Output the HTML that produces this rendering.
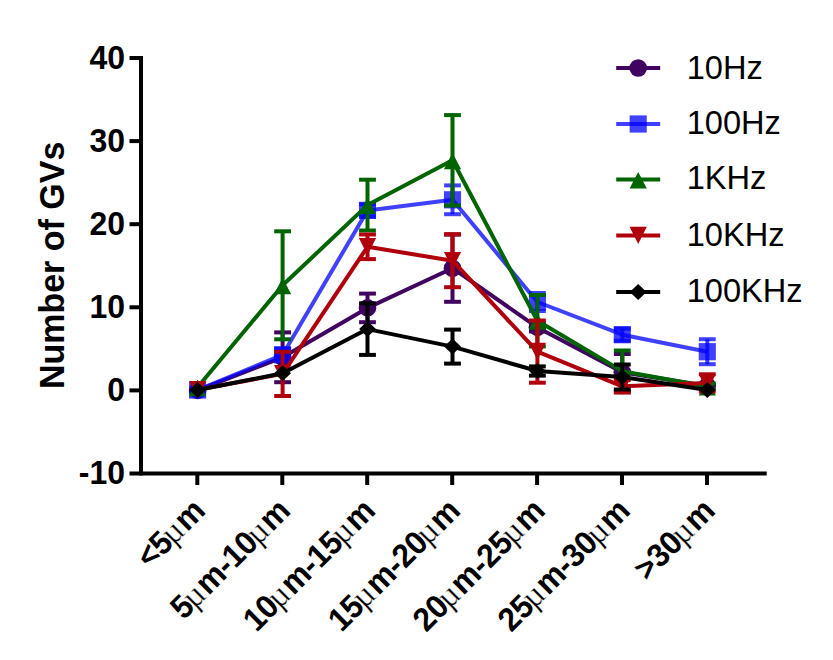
<!DOCTYPE html>
<html lang="en"><head><meta charset="utf-8"><title>Number of GVs</title>
<style>
html,body{margin:0;padding:0;background:#fff;}
svg{display:block;}
text{font-family:"Liberation Sans",Arial,Helvetica,sans-serif;fill:#000;}
.b{font-weight:bold;}
.mu{font-family:"Liberation Serif","DejaVu Serif",serif;font-weight:normal;}
text{font-kerning:none;}
</style></head><body>
<svg width="833" height="660" viewBox="0 0 833 660">
<rect width="833" height="660" fill="#fff"/>
<g><path d="M282.6 332.4V382.2" stroke="#40035F" stroke-width="4" fill="none"/>
<path d="M274.2 332.4H291.0" stroke="#40035F" stroke-width="4" fill="none"/>
<path d="M274.2 382.2H291.0" stroke="#40035F" stroke-width="4" fill="none"/>
<path d="M367.5 293.6V322.2" stroke="#40035F" stroke-width="4" fill="none"/>
<path d="M359.1 293.6H375.9" stroke="#40035F" stroke-width="4" fill="none"/>
<path d="M359.1 322.2H375.9" stroke="#40035F" stroke-width="4" fill="none"/>
<path d="M452.5 234.6V301.8" stroke="#40035F" stroke-width="4" fill="none"/>
<path d="M444.1 234.6H460.9" stroke="#40035F" stroke-width="4" fill="none"/>
<path d="M444.1 301.8H460.9" stroke="#40035F" stroke-width="4" fill="none"/>
<path d="M537.4 323.4V331.4" stroke="#40035F" stroke-width="4" fill="none"/>
<path d="M529.0 323.4H545.8" stroke="#40035F" stroke-width="4" fill="none"/>
<path d="M529.0 331.4H545.8" stroke="#40035F" stroke-width="4" fill="none"/>
<path d="M622.3 354.0V390.4" stroke="#40035F" stroke-width="4" fill="none"/>
<path d="M613.9 354.0H630.7" stroke="#40035F" stroke-width="4" fill="none"/>
<path d="M613.9 390.4H630.7" stroke="#40035F" stroke-width="4" fill="none"/>
<path d="M197.6 390.4 L282.6 357.3 L367.5 307.9 L452.5 268.2 L537.4 327.4 L622.3 372.2 L707.3 386.0" stroke="#40035F" stroke-width="4" fill="none" stroke-linejoin="round"/>
<circle cx="197.6" cy="390.4" r="8.8" fill="#40035F"/>
<circle cx="282.6" cy="357.3" r="8.8" fill="#40035F"/>
<circle cx="367.5" cy="307.9" r="8.8" fill="#40035F"/>
<circle cx="452.5" cy="268.2" r="8.8" fill="#40035F"/>
<circle cx="537.4" cy="327.4" r="8.8" fill="#40035F"/>
<circle cx="622.3" cy="372.2" r="8.8" fill="#40035F"/>
<circle cx="707.3" cy="386.0" r="8.8" fill="#40035F"/></g>
<g><path d="M282.6 348.8V360.8" stroke="#0000FF" stroke-opacity="0.75" stroke-width="4" fill="none"/>
<path d="M274.2 348.8H291.0" stroke="#0000FF" stroke-opacity="0.75" stroke-width="4" fill="none"/>
<path d="M274.2 360.8H291.0" stroke="#0000FF" stroke-opacity="0.75" stroke-width="4" fill="none"/>
<path d="M367.5 204.4V216.4" stroke="#0000FF" stroke-opacity="0.75" stroke-width="4" fill="none"/>
<path d="M359.1 204.4H375.9" stroke="#0000FF" stroke-opacity="0.75" stroke-width="4" fill="none"/>
<path d="M359.1 216.4H375.9" stroke="#0000FF" stroke-opacity="0.75" stroke-width="4" fill="none"/>
<path d="M452.5 185.4V214.2" stroke="#0000FF" stroke-opacity="0.75" stroke-width="4" fill="none"/>
<path d="M444.1 185.4H460.9" stroke="#0000FF" stroke-opacity="0.75" stroke-width="4" fill="none"/>
<path d="M444.1 214.2H460.9" stroke="#0000FF" stroke-opacity="0.75" stroke-width="4" fill="none"/>
<path d="M537.4 293.0V311.0" stroke="#0000FF" stroke-opacity="0.75" stroke-width="4" fill="none"/>
<path d="M529.0 293.0H545.8" stroke="#0000FF" stroke-opacity="0.75" stroke-width="4" fill="none"/>
<path d="M529.0 311.0H545.8" stroke="#0000FF" stroke-opacity="0.75" stroke-width="4" fill="none"/>
<path d="M622.3 328.7V340.7" stroke="#0000FF" stroke-opacity="0.75" stroke-width="4" fill="none"/>
<path d="M613.9 328.7H630.7" stroke="#0000FF" stroke-opacity="0.75" stroke-width="4" fill="none"/>
<path d="M613.9 340.7H630.7" stroke="#0000FF" stroke-opacity="0.75" stroke-width="4" fill="none"/>
<path d="M707.3 339.2V364.2" stroke="#0000FF" stroke-opacity="0.75" stroke-width="4" fill="none"/>
<path d="M698.9 339.2H715.7" stroke="#0000FF" stroke-opacity="0.75" stroke-width="4" fill="none"/>
<path d="M698.9 364.2H715.7" stroke="#0000FF" stroke-opacity="0.75" stroke-width="4" fill="none"/>
<path d="M197.6 390.0 L282.6 354.8 L367.5 210.4 L452.5 199.8 L537.4 302.0 L622.3 334.7 L707.3 351.8" stroke="#0000FF" stroke-opacity="0.75" stroke-width="4" fill="none" stroke-linejoin="round"/>
<rect x="189.05" y="381.4" width="17.1" height="17.2" fill="#0000FF" fill-opacity="0.75"/>
<rect x="274.05" y="346.2" width="17.1" height="17.2" fill="#0000FF" fill-opacity="0.75"/>
<rect x="358.95" y="201.8" width="17.1" height="17.2" fill="#0000FF" fill-opacity="0.75"/>
<rect x="443.95" y="191.2" width="17.1" height="17.2" fill="#0000FF" fill-opacity="0.75"/>
<rect x="528.85" y="293.4" width="17.1" height="17.2" fill="#0000FF" fill-opacity="0.75"/>
<rect x="613.75" y="326.1" width="17.1" height="17.2" fill="#0000FF" fill-opacity="0.75"/>
<rect x="698.75" y="343.1" width="17.1" height="17.2" fill="#0000FF" fill-opacity="0.75"/></g>
<g><path d="M282.6 231.3V339.3" stroke="#006400" stroke-width="4" fill="none"/>
<path d="M274.2 231.3H291.0" stroke="#006400" stroke-width="4" fill="none"/>
<path d="M274.2 339.3H291.0" stroke="#006400" stroke-width="4" fill="none"/>
<path d="M367.5 179.7V230.5" stroke="#006400" stroke-width="4" fill="none"/>
<path d="M359.1 179.7H375.9" stroke="#006400" stroke-width="4" fill="none"/>
<path d="M359.1 230.5H375.9" stroke="#006400" stroke-width="4" fill="none"/>
<path d="M452.5 115.1V205.5" stroke="#006400" stroke-width="4" fill="none"/>
<path d="M444.1 115.1H460.9" stroke="#006400" stroke-width="4" fill="none"/>
<path d="M444.1 205.5H460.9" stroke="#006400" stroke-width="4" fill="none"/>
<path d="M537.4 295.0V346.4" stroke="#006400" stroke-width="4" fill="none"/>
<path d="M529.0 295.0H545.8" stroke="#006400" stroke-width="4" fill="none"/>
<path d="M529.0 346.4H545.8" stroke="#006400" stroke-width="4" fill="none"/>
<path d="M622.3 350.5V392.1" stroke="#006400" stroke-width="4" fill="none"/>
<path d="M613.9 350.5H630.7" stroke="#006400" stroke-width="4" fill="none"/>
<path d="M613.9 392.1H630.7" stroke="#006400" stroke-width="4" fill="none"/>
<path d="M707.3 383.5V389.5" stroke="#006400" stroke-width="4" fill="none"/>
<path d="M698.9 383.5H715.7" stroke="#006400" stroke-width="4" fill="none"/>
<path d="M698.9 389.5H715.7" stroke="#006400" stroke-width="4" fill="none"/>
<path d="M197.6 387.2 L282.6 285.3 L367.5 205.1 L452.5 160.3 L537.4 320.7 L622.3 371.3 L707.3 386.5" stroke="#006400" stroke-width="4" fill="none" stroke-linejoin="round"/>
<polygon points="197.6,379.6 206.2,396.2 189.0,396.2" fill="#006400"/>
<polygon points="282.6,277.7 291.2,294.3 274.0,294.3" fill="#006400"/>
<polygon points="367.5,197.5 376.1,214.1 358.9,214.1" fill="#006400"/>
<polygon points="452.5,152.7 461.1,169.3 443.9,169.3" fill="#006400"/>
<polygon points="537.4,313.1 546.0,329.7 528.8,329.7" fill="#006400"/>
<polygon points="622.3,363.7 630.9,380.3 613.7,380.3" fill="#006400"/>
<polygon points="707.3,378.9 715.9,395.5 698.7,395.5" fill="#006400"/></g>
<g><path d="M282.6 351.8V396.0" stroke="#B0000C" stroke-width="4" fill="none"/>
<path d="M274.2 351.8H291.0" stroke="#B0000C" stroke-width="4" fill="none"/>
<path d="M274.2 396.0H291.0" stroke="#B0000C" stroke-width="4" fill="none"/>
<path d="M367.5 234.5V259.1" stroke="#B0000C" stroke-width="4" fill="none"/>
<path d="M359.1 234.5H375.9" stroke="#B0000C" stroke-width="4" fill="none"/>
<path d="M359.1 259.1H375.9" stroke="#B0000C" stroke-width="4" fill="none"/>
<path d="M452.5 234.2V287.2" stroke="#B0000C" stroke-width="4" fill="none"/>
<path d="M444.1 234.2H460.9" stroke="#B0000C" stroke-width="4" fill="none"/>
<path d="M444.1 287.2H460.9" stroke="#B0000C" stroke-width="4" fill="none"/>
<path d="M537.4 320.5V382.7" stroke="#B0000C" stroke-width="4" fill="none"/>
<path d="M529.0 320.5H545.8" stroke="#B0000C" stroke-width="4" fill="none"/>
<path d="M529.0 382.7H545.8" stroke="#B0000C" stroke-width="4" fill="none"/>
<path d="M622.3 380.1V392.5" stroke="#B0000C" stroke-width="4" fill="none"/>
<path d="M613.9 380.1H630.7" stroke="#B0000C" stroke-width="4" fill="none"/>
<path d="M613.9 392.5H630.7" stroke="#B0000C" stroke-width="4" fill="none"/>
<path d="M707.3 374.3V391.5" stroke="#B0000C" stroke-width="4" fill="none"/>
<path d="M698.9 374.3H715.7" stroke="#B0000C" stroke-width="4" fill="none"/>
<path d="M698.9 391.5H715.7" stroke="#B0000C" stroke-width="4" fill="none"/>
<path d="M197.6 389.8 L282.6 373.9 L367.5 246.8 L452.5 260.7 L537.4 351.6 L622.3 386.3 L707.3 382.9" stroke="#B0000C" stroke-width="4" fill="none" stroke-linejoin="round"/>
<polygon points="197.6,398.2 206.2,381.0 189.0,381.0" fill="#B0000C"/>
<polygon points="282.6,382.3 291.2,365.1 274.0,365.1" fill="#B0000C"/>
<polygon points="367.5,255.2 376.1,238.0 358.9,238.0" fill="#B0000C"/>
<polygon points="452.5,269.1 461.1,251.9 443.9,251.9" fill="#B0000C"/>
<polygon points="537.4,360.0 546.0,342.8 528.8,342.8" fill="#B0000C"/>
<polygon points="622.3,394.7 630.9,377.5 613.7,377.5" fill="#B0000C"/>
<polygon points="707.3,391.3 715.9,374.1 698.7,374.1" fill="#B0000C"/></g>
<g><path d="M367.5 303.3V354.9" stroke="#000000" stroke-width="4" fill="none"/>
<path d="M359.1 303.3H375.9" stroke="#000000" stroke-width="4" fill="none"/>
<path d="M359.1 354.9H375.9" stroke="#000000" stroke-width="4" fill="none"/>
<path d="M452.5 329.6V363.6" stroke="#000000" stroke-width="4" fill="none"/>
<path d="M444.1 329.6H460.9" stroke="#000000" stroke-width="4" fill="none"/>
<path d="M444.1 363.6H460.9" stroke="#000000" stroke-width="4" fill="none"/>
<path d="M537.4 366.4V375.6" stroke="#000000" stroke-width="4" fill="none"/>
<path d="M529.0 366.4H545.8" stroke="#000000" stroke-width="4" fill="none"/>
<path d="M529.0 375.6H545.8" stroke="#000000" stroke-width="4" fill="none"/>
<path d="M622.3 364.5V389.5" stroke="#000000" stroke-width="4" fill="none"/>
<path d="M613.9 364.5H630.7" stroke="#000000" stroke-width="4" fill="none"/>
<path d="M613.9 389.5H630.7" stroke="#000000" stroke-width="4" fill="none"/>
<path d="M197.6 390.0 L282.6 373.3 L367.5 329.1 L452.5 346.6 L537.4 371.0 L622.3 377.0 L707.3 390.0" stroke="#000000" stroke-width="4" fill="none" stroke-linejoin="round"/>
<polygon points="197.6,382.0 206.0,390.0 197.6,398.0 189.2,390.0" fill="#000000"/>
<polygon points="282.6,365.3 291.0,373.3 282.6,381.3 274.2,373.3" fill="#000000"/>
<polygon points="367.5,321.1 375.9,329.1 367.5,337.1 359.1,329.1" fill="#000000"/>
<polygon points="452.5,338.6 460.9,346.6 452.5,354.6 444.1,346.6" fill="#000000"/>
<polygon points="537.4,363.0 545.8,371.0 537.4,379.0 529.0,371.0" fill="#000000"/>
<polygon points="622.3,369.0 630.7,377.0 622.3,385.0 613.9,377.0" fill="#000000"/>
<polygon points="707.3,382.0 715.7,390.0 707.3,398.0 698.9,390.0" fill="#000000"/></g>
<g fill="#000">
<rect x="139" y="56" width="4" height="419.5"/>
<rect x="129.5" y="471.5" width="637.2" height="4"/>
<rect x="129.5" y="56.0" width="10" height="4"/>
<rect x="129.5" y="139.1" width="10" height="4"/>
<rect x="129.5" y="222.2" width="10" height="4"/>
<rect x="129.5" y="305.3" width="10" height="4"/>
<rect x="129.5" y="388.4" width="10" height="4"/>
<rect x="195.3" y="475" width="4" height="10"/>
<rect x="280.3" y="475" width="4" height="10"/>
<rect x="365.2" y="475" width="4" height="10"/>
<rect x="450.2" y="475" width="4" height="10"/>
<rect x="535.1" y="475" width="4" height="10"/>
<rect x="620.0" y="475" width="4" height="10"/>
<rect x="705.0" y="475" width="4" height="10"/>
</g>
<text class="b" transform="translate(125 68.8) scale(1 1.04)" font-size="32" text-anchor="end">40</text>
<text class="b" transform="translate(125 151.9) scale(1 1.04)" font-size="32" text-anchor="end">30</text>
<text class="b" transform="translate(125 235.0) scale(1 1.04)" font-size="32" text-anchor="end">20</text>
<text class="b" transform="translate(125 318.1) scale(1 1.04)" font-size="32" text-anchor="end">10</text>
<text class="b" transform="translate(125 401.2) scale(1 1.04)" font-size="32" text-anchor="end">0</text>
<text class="b" transform="translate(125 484.3) scale(1 1.04)" font-size="32" text-anchor="end">-10</text>
<text class="b" transform="translate(206.9 512.6) rotate(-45) scale(1 1.04)" font-size="31.5" letter-spacing="-0.3"><tspan x="-80.91">&lt;5</tspan><tspan x="-47.70" class="mu" font-size="32.7" stroke="#fff" stroke-width="0.35">µ</tspan><tspan x="-27.70">m</tspan></text>
<text class="b" transform="translate(291.9 512.6) rotate(-45) scale(1 1.04)" font-size="31.5" letter-spacing="-0.3"><tspan x="-153.04">5</tspan><tspan x="-137.92" class="mu" font-size="32.7" stroke="#fff" stroke-width="0.35">µ</tspan><tspan x="-117.92">m-10</tspan><tspan x="-47.70" class="mu" font-size="32.7" stroke="#fff" stroke-width="0.35">µ</tspan><tspan x="-27.70">m</tspan></text>
<text class="b" transform="translate(376.8 512.6) rotate(-45) scale(1 1.04)" font-size="31.5" letter-spacing="-0.3"><tspan x="-170.25">10</tspan><tspan x="-137.92" class="mu" font-size="32.7" stroke="#fff" stroke-width="0.35">µ</tspan><tspan x="-117.92">m-15</tspan><tspan x="-47.70" class="mu" font-size="32.7" stroke="#fff" stroke-width="0.35">µ</tspan><tspan x="-27.70">m</tspan></text>
<text class="b" transform="translate(461.8 512.6) rotate(-45) scale(1 1.04)" font-size="31.5" letter-spacing="-0.3"><tspan x="-170.25">15</tspan><tspan x="-137.92" class="mu" font-size="32.7" stroke="#fff" stroke-width="0.35">µ</tspan><tspan x="-117.92">m-20</tspan><tspan x="-47.70" class="mu" font-size="32.7" stroke="#fff" stroke-width="0.35">µ</tspan><tspan x="-27.70">m</tspan></text>
<text class="b" transform="translate(546.7 512.6) rotate(-45) scale(1 1.04)" font-size="31.5" letter-spacing="-0.3"><tspan x="-170.25">20</tspan><tspan x="-137.92" class="mu" font-size="32.7" stroke="#fff" stroke-width="0.35">µ</tspan><tspan x="-117.92">m-25</tspan><tspan x="-47.70" class="mu" font-size="32.7" stroke="#fff" stroke-width="0.35">µ</tspan><tspan x="-27.70">m</tspan></text>
<text class="b" transform="translate(631.6 512.6) rotate(-45) scale(1 1.04)" font-size="31.5" letter-spacing="-0.3"><tspan x="-170.25">25</tspan><tspan x="-137.92" class="mu" font-size="32.7" stroke="#fff" stroke-width="0.35">µ</tspan><tspan x="-117.92">m-30</tspan><tspan x="-47.70" class="mu" font-size="32.7" stroke="#fff" stroke-width="0.35">µ</tspan><tspan x="-27.70">m</tspan></text>
<text class="b" transform="translate(716.6 512.6) rotate(-45) scale(1 1.04)" font-size="31.5" letter-spacing="-0.3"><tspan x="-98.13">&gt;30</tspan><tspan x="-47.70" class="mu" font-size="32.7" stroke="#fff" stroke-width="0.35">µ</tspan><tspan x="-27.70">m</tspan></text>
<text class="b" font-size="34" text-anchor="middle" transform="translate(63.7 265.4) rotate(-90) scale(1 1.04)">Number of GVs</text>
<path d="M616.2 68H660.2" stroke="#40035F" stroke-width="4" fill="none"/>
<circle cx="638.2" cy="68.0" r="8.8" fill="#40035F"/>
<text transform="translate(686.7 78.8) scale(1 1.04)" font-size="32.6">10Hz</text>
<path d="M616.2 124H660.2" stroke="#0000FF" stroke-opacity="0.75" stroke-width="4" fill="none"/>
<rect x="629.65" y="115.4" width="17.1" height="17.2" fill="#0000FF" fill-opacity="0.75"/>
<text transform="translate(686.7 134.0) scale(1 1.04)" font-size="32.6">100Hz</text>
<path d="M616.2 179.6H660.2" stroke="#006400" stroke-width="4" fill="none"/>
<polygon points="638.2,172.0 646.8,188.6 629.6,188.6" fill="#006400"/>
<text transform="translate(686.7 189.4) scale(1 1.04)" font-size="32.6">1KHz</text>
<path d="M616.2 235.6H660.2" stroke="#B0000C" stroke-width="4" fill="none"/>
<polygon points="638.2,244.0 646.8,226.8 629.6,226.8" fill="#B0000C"/>
<text transform="translate(686.7 246.3) scale(1 1.04)" font-size="32.6">10KHz</text>
<path d="M616.2 292H660.2" stroke="#000000" stroke-width="4" fill="none"/>
<polygon points="638.2,284.0 646.6,292.0 638.2,300.0 629.8,292.0" fill="#000000"/>
<text transform="translate(686.7 302.3) scale(1 1.04)" font-size="32.6">100KHz</text>
</svg></body></html>
